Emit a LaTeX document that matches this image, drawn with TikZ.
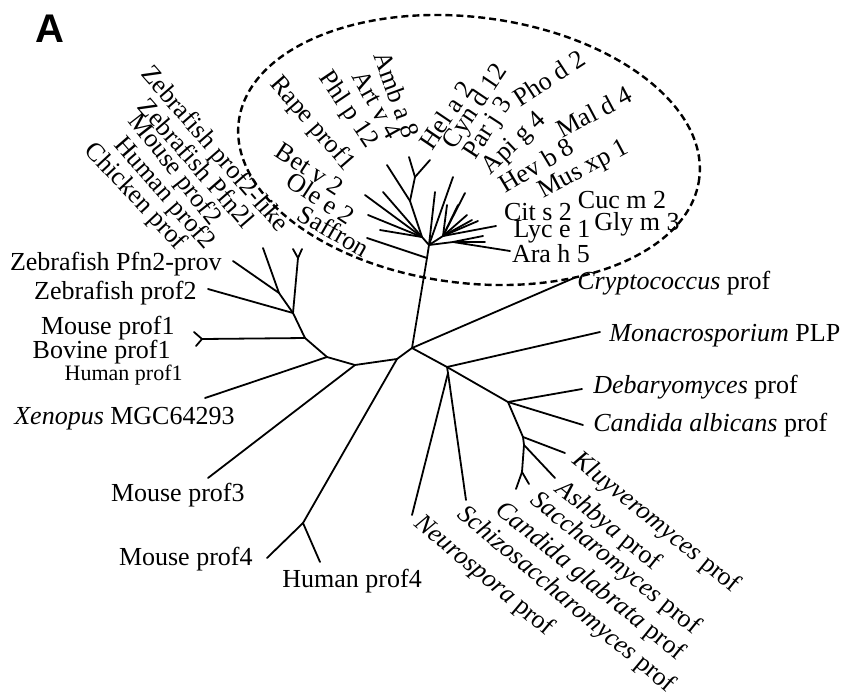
\documentclass[tikz,border=0pt]{standalone}
\usepackage{fontspec}
\setmainfont{Liberation Serif}
\newfontfamily\panelfont{Liberation Sans}
\usetikzlibrary{calc}

\tikzset{
  branch/.style={line width=0.9pt, line cap=round},
  taxon/.style={font=\fontsize{13}{15}\selectfont, inner sep=1pt},
  smalltaxon/.style={font=\fontsize{11}{13}\selectfont, inner sep=1pt},
  allergenring/.style={line width=1.2pt, dash pattern=on 3.5pt off 2pt}
}

\begin{document}
\begin{tikzpicture}[x=0.5pt, y=-0.5pt]
\useasboundingbox (0,0) rectangle (842,698);

% Panel letter
\node[font=\panelfont\bfseries\fontsize{20}{22}\selectfont] (panel) at (50,29) {A};

% Internal nodes of the tree
\coordinate (R) at (412,348);
\coordinate (J1) at (397,359);
\coordinate (J2) at (355,365);
\coordinate (J3) at (327,357);
\coordinate (J4) at (305,338);
\coordinate (J5) at (293,313);
\coordinate (J6) at (279,293);
\coordinate (J7) at (298,258);
\coordinate (J8) at (303,523);
\coordinate (K1) at (202,339);
\coordinate (F1) at (447,367);
\coordinate (F1b) at (448,373);
\coordinate (F3) at (508,402);
\coordinate (F4) at (523,437);
\coordinate (F5) at (524,445);
\coordinate (F6) at (522,472);
\coordinate (S1) at (427,258);
\coordinate (P) at (429,245);
\coordinate (L0) at (422,237);
\coordinate (L1) at (410,201);
\coordinate (L2) at (415,177);
\coordinate (H) at (443,236);
\coordinate (H2) at (453,242);

% Tips: animals
\coordinate (zfprov) at (233,261);
\coordinate (zfup) at (263,248);
\coordinate (zfya) at (293,249);
\coordinate (zfyb) at (302,249);
\coordinate (zfprof2) at (208,289);
\coordinate (pa) at (194,332);
\coordinate (pb) at (196,346);
\coordinate (xen) at (205,398);
\coordinate (mp3) at (208,478);
\coordinate (mp4) at (267,558);
\coordinate (hp4) at (320,562);

% Tips: fungi
\coordinate (cryp) at (574,278);
\coordinate (mona) at (600,332);
\coordinate (neur) at (412,515);
\coordinate (schi) at (466,500);
\coordinate (deba) at (582,389);
\coordinate (calb) at (583,425);
\coordinate (kluy) at (565,453);
\coordinate (ashb) at (555,478);
\coordinate (sacc) at (529,484);
\coordinate (cgla) at (516,489);

% Tips: plants
\coordinate (saff) at (367,238);
\coordinate (pl1) at (387,165);
\coordinate (pl2) at (409,157);
\coordinate (pl3) at (430,160);
\coordinate (pl4) at (383,192);
\coordinate (pl5) at (365,195);
\coordinate (pl6) at (368,215);
\coordinate (pl7) at (380,230);
\coordinate (pr1) at (435,192);
\coordinate (pr2) at (453,177);
\coordinate (pr3) at (465,193);
\coordinate (pr4) at (447,205);
\coordinate (pr5) at (458,205);
\coordinate (pr6) at (467,215);
\coordinate (pr7) at (472,220);
\coordinate (pr8) at (478,221);
\coordinate (pr9) at (496,226);
\coordinate (pr10) at (483,236);
\coordinate (pr11) at (485,242);
\coordinate (ara) at (510,251);

% Branches
\foreach \a/\b in {R/J1, J1/J2, J2/J3, J3/J4, J4/J5, J5/J6, J6/zfprov, J6/zfup,
    J5/J7, J7/zfya, J7/zfyb, J5/zfprof2, J4/K1, K1/pa, K1/pb, J3/xen, J2/mp3,
    J1/J8, J8/mp4, J8/hp4}
  \draw[branch] (\a) -- (\b);
\foreach \a/\b in {R/cryp, R/F1, F1/mona, F1/F1b, F1b/neur, F1b/schi, F1/F3,
    F3/deba, F3/calb, F3/F4, F4/kluy, F4/F5, F5/ashb, F5/F6, F6/sacc, F6/cgla}
  \draw[branch] (\a) -- (\b);
\foreach \a/\b in {R/S1, S1/P, S1/saff, P/L0, L0/L1, L1/pl1, L1/L2, L2/pl2, L2/pl3,
    L0/pl4, L0/pl5, L0/pl6, L0/pl7, P/pr1, P/pr2, P/H, H/pr3, H/pr4, H/pr5, H/pr6,
    H/pr7, H/pr8, H/pr9, P/H2, H2/pr10, H2/pr11, H2/ara}
  \draw[branch] (\a) -- (\b);

% Allergen group
\draw[allergenring, rotate around={-7:(469,150)}] (469,150) ellipse [x radius=232, y radius=133];

% Labels: animals
\node[taxon, anchor=east] (lzfprov) at (224,264) {Zebrafish Pfn2-prov};
\node[taxon, anchor=east] (lzfprof2) at (199,293) {Zebrafish prof2};
\node[taxon, anchor=east] (lmp1) at (177,328) {Mouse prof1};
\node[taxon, anchor=east] (lbp1) at (173,352) {Bovine prof1};
\node[smalltaxon, anchor=east] (lhp1) at (185,375) {Human prof1};
\node[taxon, anchor=east] (lxen) at (237,419) {\textit{Xenopus} MGC64293};
\node[taxon, anchor=east] (lmp3) at (247,495) {Mouse prof3};
\node[taxon, anchor=east] (lmp4) at (255,559) {Mouse prof4};
\node[taxon, anchor=west] (lhp4) at (280,581) {Human prof4};
\node[taxon, rotate=-49] (lzflike) at (214,150) {Zebrafish prof2-like};
\node[taxon, rotate=-49] (lzfl) at (197,163) {Zebrafish Pfn2l};
\node[taxon, rotate=-52] (lmp2) at (174,170) {Mouse prof2};
\node[taxon, rotate=-49] (lhp2) at (164,194) {Human prof2};
\node[taxon, rotate=-47] (lchk) at (135,197) {Chicken prof};

% Labels: fungi
\node[taxon, anchor=west] (lcryp) at (575,283) {\textit{Cryptococcus} prof};
\node[taxon, anchor=west] (lmona) at (607,336) {\textit{Monacrosporium} PLP};
\node[taxon, anchor=west] (ldeba) at (591,387) {\textit{Debaryomyces} prof};
\node[taxon, anchor=west] (lcalb) at (591,425) {\textit{Candida albicans} prof};
\node[taxon, rotate=-39] (lkluy) at (656,523) {\textit{Kluyveromyces} prof};
\node[taxon, rotate=-39] (lashb) at (608,526) {\textit{Ashbya} prof};
\node[taxon, rotate=-39] (lsacc) at (615,564) {\textit{Saccharomyces} prof};
\node[taxon, rotate=-39] (lcgla) at (590,582) {\textit{Candida glabrata} prof};
\node[taxon, rotate=-40] (lschi) at (566,600) {\textit{Schizosaccharomyces} prof};
\node[taxon, rotate=-40] (lneur) at (484,576) {\textit{Neurospora} prof};

% Labels: plants
\node[taxon, rotate=-49] (lrape) at (312,124) {Rape prof1};
\node[taxon, rotate=-56] (lphl) at (348,110) {Phl p 12};
\node[taxon, rotate=-61] (lart) at (377,105) {Art v 4};
\node[taxon, rotate=-70] (lamb) at (397,95) {Amb a 8};
\node[taxon, rotate=-33] (lbet) at (310,169) {Bet v 2};
\node[taxon, rotate=-33] (lole) at (321,198) {Ole e 2};
\node[taxon, rotate=-30] (lsaff) at (334,231) {Saffron};
\node[taxon, rotate=56] (lhel) at (446,115) {Hel a 2};
\node[taxon, rotate=56] (lcyn) at (476,107) {Cyn d 12};
\node[taxon, rotate=57] (lpar) at (489,129) {Par j 3};
\node[taxon, rotate=33] (lpho) at (549,78) {Pho d 2};
\node[taxon, rotate=44] (lapi) at (515,144) {Api g 4};
\node[taxon, rotate=28] (lmal) at (594,112) {Mal d 4};
\node[taxon, rotate=31] (lhev) at (536,165) {Hev b 8};
\node[taxon, rotate=28] (lmus) at (584,170) {Mus xp 1};
\node[taxon] (lcit) at (538,212) {Cit s 2};
\node[taxon] (lcuc) at (622,200) {Cuc m 2};
\node[taxon] (llyc) at (552,232) {Lyc e 1};
\node[taxon] (lgly) at (637,224) {Gly m 3};
\node[taxon] (lara) at (551,254) {Ara h 5};
\end{tikzpicture}
\end{document}
